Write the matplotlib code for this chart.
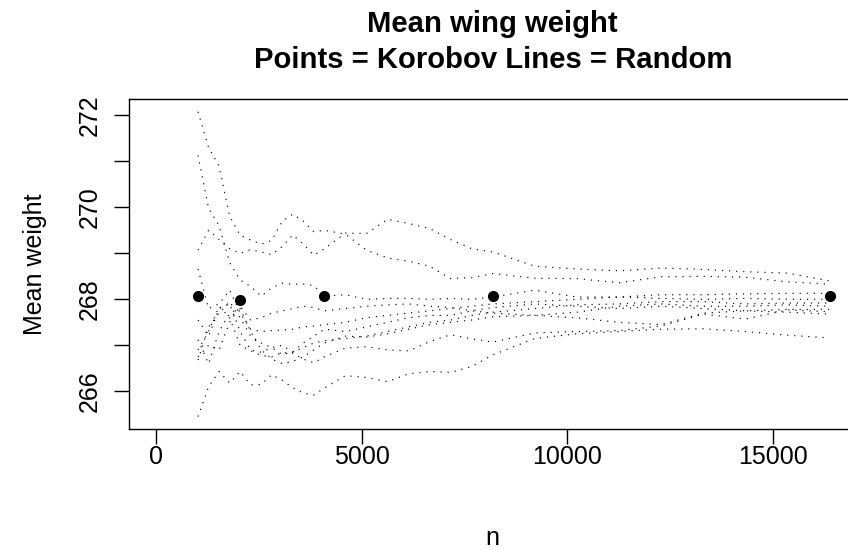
import matplotlib
matplotlib.use("Agg")
import matplotlib.pyplot as plt

plt.rcParams['font.family'] = ['Liberation Sans', 'DejaVu Sans']

# sample sizes at which the running means were recorded
n_grid = [1024, 1280, 1536, 1792, 2048, 2304, 2560, 2816, 3072, 3328, 3584, 3840,
          4096, 4608, 5120, 5632, 6144, 6656, 7168, 7680, 8192, 9216, 10240,
          11264, 12288, 13312, 14336, 15360, 16384]

# random-sampling running means (10 replicates)
rand_a = [272.08, 271.3, 270.9, 269.81, 269.39, 269.29, 269.2, 269.28, 269.7, 269.85, 269.7, 269.47,
          269.5, 269.42, 269.07, 268.9, 268.83, 268.72, 268.45, 268.47, 268.56, 268.46, 268.45,
          268.36, 268.49, 268.5, 268.48, 268.38, 268.33]
rand_b = [271.13, 269.98, 269.6, 268.8, 268.42, 268.28, 268.07, 268.25, 268.35, 268.33, 268.33, 268.3,
          268.07, 268.1, 268.0, 268.02, 268.02, 268.0, 268.02, 268.0, 268.05, 268.2, 268.05,
          268.05, 268.1, 268.1, 268.12, 268.13, 268.13]
rand_c = [269.07, 269.5, 269.3, 269.1, 269.0, 269.08, 269.03, 268.97, 269.15, 269.4, 269.2, 268.96,
          269.1, 269.44, 269.43, 269.74, 269.65, 269.54, 269.3, 269.1, 269.03, 268.72, 268.66,
          268.62, 268.68, 268.65, 268.6, 268.57, 268.4]
rand_d = [268.66, 267.8, 267.9, 268.2, 267.7, 267.35, 267.3, 267.32, 267.33, 267.35, 267.4, 267.42,
          267.45, 267.5, 267.6, 267.65, 267.7, 267.75, 267.8, 267.85, 267.9, 267.95, 268.0,
          268.05, 268.02, 268.0, 268.02, 268.0, 268.0]
rand_e = [267.55, 267.2, 267.8, 267.9, 267.3, 266.9, 266.85, 266.95, 267.0, 266.85, 266.95, 267.05,
          267.1, 267.15, 267.2, 267.3, 267.4, 267.5, 267.55, 267.65, 267.72, 267.8, 267.88,
          267.9, 267.95, 267.95, 267.9, 267.92, 267.92]
rand_f = [267.12, 266.6, 267.3, 267.7, 267.8, 267.3, 266.9, 266.7, 266.6, 266.65, 266.75, 266.9,
          267.05, 267.2, 267.18, 267.25, 267.35, 267.45, 267.5, 267.55, 267.62, 267.65, 267.72,
          267.85, 267.9, 267.85, 267.85, 267.88, 267.85]
rand_g = [266.9, 267.3, 267.85, 267.6, 267.0, 266.88, 266.78, 266.75, 266.84, 266.83, 266.7, 266.62,
          266.75, 266.94, 266.97, 266.9, 266.88, 267.08, 267.23, 267.14, 267.07, 267.27, 267.3,
          267.32, 267.42, 267.68, 267.57, 267.77, 267.73]
rand_h = [266.68, 267.4, 267.7, 267.95, 267.6, 267.2, 267.05, 266.95, 266.8, 266.85, 267.05, 267.2,
          267.35, 267.3, 267.4, 267.5, 267.6, 267.65, 267.65, 267.75, 267.82, 267.9, 267.85,
          267.8, 267.85, 267.8, 267.75, 267.78, 267.78]
rand_i = [266.75, 267.0, 266.9, 267.5, 267.85, 267.55, 267.6, 267.7, 267.75, 267.8, 267.85, 267.82,
          267.75, 267.8, 267.85, 267.88, 267.9, 267.85, 267.82, 267.75, 267.7, 267.65, 267.6,
          267.5, 267.45, 267.7, 267.75, 267.72, 267.68]
rand_j = [265.45, 266.1, 266.43, 266.18, 266.43, 266.14, 266.15, 266.36, 266.24, 266.08, 265.96, 265.92,
          266.07, 266.34, 266.3, 266.21, 266.38, 266.43, 266.41, 266.54, 266.79, 267.15, 267.25,
          267.3, 267.35, 267.36, 267.3, 267.22, 267.16]

# Korobov lattice estimates
korobov_n = [1024, 2048, 4096, 8192, 16384]
korobov_mean = [268.07, 267.98, 268.07, 268.07, 268.07]

x_ticks = [0, 5000, 10000, 15000]
y_ticks = [266, 267, 268, 269, 270, 271, 272]
y_tick_labels = ['266', '', '268', '', '270', '', '272']

W, H = 848, 550
fig = plt.figure(figsize=(W / 100, H / 100), dpi=100)
left, right, top, bottom = 129, 856.5, 99.3, 429
ax = fig.add_axes([left / W, 1 - bottom / H, (right - left) / W, (bottom - top) / H])

for vals in [rand_a, rand_b, rand_c, rand_d, rand_e, rand_f, rand_g, rand_h, rand_i, rand_j]:
    ax.plot(n_grid, vals, color='black', lw=0.85, linestyle=(0, (1, 5.0)))

ax.plot(korobov_n, korobov_mean, 'o', color='black', ms=7, clip_on=False)

ax.set_xlim(-655.36, 17039.36)
ax.set_ylim(265.18, 272.35)
ax.set_xticks(x_ticks)
ax.set_xticklabels([str(v) for v in x_ticks])
ax.set_yticks(y_ticks)
ax.set_yticklabels(y_tick_labels, rotation=90, va='center')
ax.tick_params(axis='both', direction='out', length=10.8, width=1, labelsize=18, color='black')
ax.tick_params(axis='x', pad=1)
ax.tick_params(axis='y', pad=9)
for s in ax.spines.values():
    s.set_linewidth(1)
    s.set_color('black')

cx = (left + right) / 2 / W
fig.text(cx, 1 - 32 / H, 'Mean wing weight', ha='center', va='baseline',
         fontsize=21.1, fontweight='bold')
fig.text(cx, 1 - 68 / H, 'Points = Korobov Lines = Random', ha='center', va='baseline',
         fontsize=21.1, fontweight='bold')
fig.text(cx, 1 - 545 / H, 'n', ha='center', va='baseline', fontsize=18)
fig.text(35 / W, 1 - (top + bottom) / 2 / H, 'Mean weight', ha='center', va='center',
         rotation=90, fontsize=18)

fig.savefig('out.png', dpi=100)
